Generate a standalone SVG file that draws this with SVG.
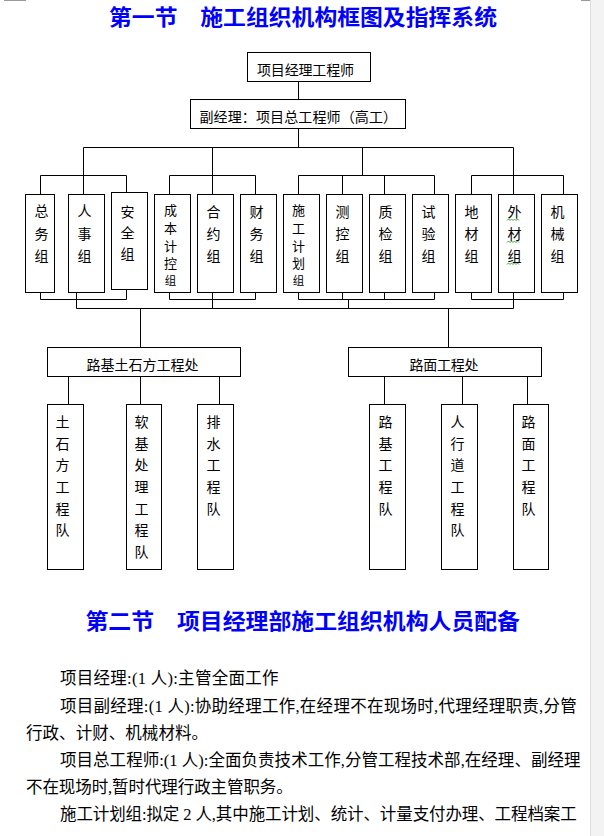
<svg xmlns="http://www.w3.org/2000/svg" width="604" height="836" viewBox="0 0 604 836">
<style>
.box{fill:#fff;stroke:#000;stroke-width:1}
.lbl{font-family:"Noto Sans CJK SC","Noto Sans CJK JP",sans-serif;font-size:14px;fill:#000}
.sm{font-size:13px}
.v{text-anchor:middle}
.title{font-family:"Noto Sans CJK SC",sans-serif;font-size:21.5px;font-weight:bold;fill:#0000ff}
.body{font-family:"Liberation Serif","Noto Sans CJK SC",serif;font-size:16.5px;fill:#000}
.conn{stroke:#000;stroke-width:1;fill:none}
.sq{stroke:#3aa83a;stroke-width:1;fill:none}
</style>
<rect x="0" y="0" width="604" height="836" fill="#fff"/>
<rect x="590" y="0" width="14" height="836" fill="#f3f3f3"/>
<line x1="590.5" y1="0" x2="590.5" y2="836" stroke="#dcdcdc"/>
<line x1="4" y1="0.5" x2="26" y2="0.5" stroke="#9a9a9a"/>
<line x1="581" y1="0.5" x2="590" y2="0.5" stroke="#9a9a9a"/>

<text class="title" x="109" y="25" textLength="388" lengthAdjust="spacingAndGlyphs">第一节　施工组织机构框图及指挥系统</text>

<g id="connectors" class="conn">
<path d="M298.5 81.5V99.5M298.5 128.5V147.5M83.5 147.5H513.5"/>
<path d="M83.5 147.5V194.5M212.5 147.5V194.5M362.5 147.5V175.5M513.5 147.5V194.5"/>
<path d="M40.5 194.5V175.5H126.5V192.5"/>
<path d="M169.5 194.5V175.5H255.5V194.5"/>
<path d="M298.5 194.5V175.5H434.5V194.5M342.5 175.5V194.5M384.5 175.5V194.5"/>
<path d="M471.5 194.5V175.5H563.5V194.5"/>
<path d="M40.5 292.5V299.5H126.5V289.5"/>
<path d="M169.5 292.5V299.5H255.5V292.5"/>
<path d="M298.5 292.5V299.5H434.5V292.5M342.5 292.5V299.5M384.5 292.5V299.5"/>
<path d="M471.5 292.5V299.5H563.5V292.5"/>
<path d="M76.5 292.5V308.5M212.5 292.5V308.5M348.5 299.5V308.5M513.5 292.5V308.5"/>
<path d="M76.5 308.5H513.5"/>
<path d="M140.5 308.5V347.5M448.5 308.5V347.5"/>
<path d="M68.5 376.5V404.5M140.5 376.5V404.5M219.5 376.5V404.5"/>
<path d="M384.5 376.5V404.5M462.5 376.5V404.5M527.5 376.5V404.5"/>
</g>

<g id="pm"><rect class="box" x="247.5" y="52.5" width="123" height="29"/><text class="lbl" x="257" y="75" textLength="97">项目经理工程师</text></g>
<g id="dpm"><rect class="box" x="190.5" y="99.5" width="215" height="29"/><text class="lbl" x="199.5" y="122" textLength="197.5">副经理：项目总工程师（高工）</text></g>

<g id="zongwu"><rect class="box" x="25.5" y="194.5" width="29" height="98"/><text class="lbl v"><tspan x="41.5" y="215.5">总</tspan><tspan x="41.5" y="239">务</tspan><tspan x="41.5" y="261">组</tspan></text></g>
<g id="renshi"><rect class="box" x="68.5" y="194.5" width="36" height="98"/><text class="lbl v"><tspan x="84.5" y="215.5">人</tspan><tspan x="84.5" y="239">事</tspan><tspan x="84.5" y="261">组</tspan></text></g>
<g id="anquan"><rect class="box" x="111.5" y="192.5" width="36" height="97"/><text class="lbl v"><tspan x="127.5" y="217">安</tspan><tspan x="127.5" y="237.5">全</tspan><tspan x="127.5" y="258.5">组</tspan></text></g>
<g id="chengben"><rect class="box" x="154.5" y="194.5" width="36" height="98"/><text class="lbl sm v"><tspan x="170.5" y="215">成</tspan><tspan x="170.5" y="233">本</tspan><tspan x="170.5" y="250.5">计</tspan><tspan x="170.5" y="268">控</tspan><tspan x="170.5" y="284.5" font-size="11.5">组</tspan></text></g>
<g id="heyue"><rect class="box" x="197.5" y="194.5" width="36" height="98"/><text class="lbl v"><tspan x="213.5" y="217">合</tspan><tspan x="213.5" y="239">约</tspan><tspan x="213.5" y="261">组</tspan></text></g>
<g id="caiwu"><rect class="box" x="240.5" y="194.5" width="36" height="98"/><text class="lbl v"><tspan x="256.5" y="217">财</tspan><tspan x="256.5" y="239">务</tspan><tspan x="256.5" y="261">组</tspan></text></g>
<g id="shigong"><rect class="box" x="283.5" y="194.5" width="36" height="98"/><text class="lbl sm v"><tspan x="298.5" y="215">施</tspan><tspan x="298.5" y="233">工</tspan><tspan x="298.5" y="250.5">计</tspan><tspan x="298.5" y="268">划</tspan><tspan x="298.5" y="284.5" font-size="11.5">组</tspan></text></g>
<g id="cekong"><rect class="box" x="326.5" y="194.5" width="36" height="98"/><text class="lbl v"><tspan x="342.5" y="217">测</tspan><tspan x="342.5" y="239">控</tspan><tspan x="342.5" y="261">组</tspan></text></g>
<g id="zhijian"><rect class="box" x="369.5" y="194.5" width="36" height="98"/><text class="lbl v"><tspan x="385.5" y="217">质</tspan><tspan x="385.5" y="239">检</tspan><tspan x="385.5" y="261">组</tspan></text></g>
<g id="shiyan"><rect class="box" x="412.5" y="194.5" width="36" height="98"/><text class="lbl v"><tspan x="428.5" y="217">试</tspan><tspan x="428.5" y="239">验</tspan><tspan x="428.5" y="261">组</tspan></text></g>
<g id="dicai"><rect class="box" x="455.5" y="194.5" width="36" height="98"/><text class="lbl v"><tspan x="471.5" y="217">地</tspan><tspan x="471.5" y="239">材</tspan><tspan x="471.5" y="261">组</tspan></text></g>
<g id="waicai"><rect class="box" x="498.5" y="194.5" width="36" height="98"/><text class="lbl v"><tspan x="514.5" y="217">外</tspan><tspan x="514.5" y="239">材</tspan><tspan x="514.5" y="261">组</tspan></text>
<path class="sq" d="M507 220.5l1.5-1.5 1.5 1.5 1.5-1.5 1.5 1.5 1.5-1.5 1.5 1.5 1.5-1.5 1.5 1.5M507 242.5l1.5-1.5 1.5 1.5 1.5-1.5 1.5 1.5 1.5-1.5 1.5 1.5 1.5-1.5 1.5 1.5M507 264.5l1.5-1.5 1.5 1.5 1.5-1.5 1.5 1.5 1.5-1.5 1.5 1.5 1.5-1.5 1.5 1.5"/></g>
<g id="jixie"><rect class="box" x="541.5" y="194.5" width="36" height="98"/><text class="lbl v"><tspan x="557.5" y="217">机</tspan><tspan x="557.5" y="239">械</tspan><tspan x="557.5" y="261">组</tspan></text></g>

<g id="lujichu"><rect class="box" x="47.5" y="347.5" width="193" height="29"/><text class="lbl" x="86.5" y="370" textLength="112">路基土石方工程处</text></g>
<g id="lumianchu"><rect class="box" x="348.5" y="347.5" width="193" height="29"/><text class="lbl" x="409.5" y="370" textLength="69">路面工程处</text></g>

<g id="tushifang"><rect class="box" x="47.5" y="404.5" width="36" height="165"/><text class="lbl v"><tspan x="62.5" y="427">土</tspan><tspan x="62.5" y="448.7">石</tspan><tspan x="62.5" y="470.3">方</tspan><tspan x="62.5" y="492">工</tspan><tspan x="62.5" y="513.7">程</tspan><tspan x="62.5" y="535.3">队</tspan></text></g>
<g id="ruanji"><rect class="box" x="126.5" y="404.5" width="35" height="165"/><text class="lbl v"><tspan x="141.5" y="427">软</tspan><tspan x="141.5" y="448.7">基</tspan><tspan x="141.5" y="470.3">处</tspan><tspan x="141.5" y="492">理</tspan><tspan x="141.5" y="513.7">工</tspan><tspan x="141.5" y="535.3">程</tspan><tspan x="141.5" y="557">队</tspan></text></g>
<g id="paishui"><rect class="box" x="197.5" y="404.5" width="36" height="165"/><text class="lbl v"><tspan x="213.5" y="427">排</tspan><tspan x="213.5" y="448.7">水</tspan><tspan x="213.5" y="470.3">工</tspan><tspan x="213.5" y="492">程</tspan><tspan x="213.5" y="513.7">队</tspan></text></g>
<g id="luji"><rect class="box" x="369.5" y="404.5" width="36" height="165"/><text class="lbl v"><tspan x="385.5" y="427">路</tspan><tspan x="385.5" y="448.7">基</tspan><tspan x="385.5" y="470.3">工</tspan><tspan x="385.5" y="492">程</tspan><tspan x="385.5" y="513.7">队</tspan></text></g>
<g id="renxingdao"><rect class="box" x="441.5" y="404.5" width="36" height="165"/><text class="lbl v"><tspan x="457.5" y="427">人</tspan><tspan x="457.5" y="448.7">行</tspan><tspan x="457.5" y="470.3">道</tspan><tspan x="457.5" y="492">工</tspan><tspan x="457.5" y="513.7">程</tspan><tspan x="457.5" y="535.3">队</tspan></text></g>
<g id="lumian"><rect class="box" x="513.5" y="404.5" width="35" height="165"/><text class="lbl v"><tspan x="528.5" y="427">路</tspan><tspan x="528.5" y="448.7">面</tspan><tspan x="528.5" y="470.3">工</tspan><tspan x="528.5" y="492">程</tspan><tspan x="528.5" y="513.7">队</tspan></text></g>

<text class="title" x="85.5" y="628.5" textLength="434.5" lengthAdjust="spacingAndGlyphs">第二节　项目经理部施工组织机构人员配备</text>

<g id="body">
<text class="body" x="60" y="684" textLength="218.5">项目经理:(1 人):主管全面工作</text>
<text class="body" x="60" y="712" textLength="516.7">项目副经理:(1 人):协助经理工作,在经理不在现场时,代理经理职责,分管</text>
<text class="body" x="26" y="739" textLength="182">行政、计财、机械材料。</text>
<text class="body" x="60" y="766" textLength="520.5">项目总工程师:(1 人):全面负责技术工作,分管工程技术部,在经理、副经理</text>
<text class="body" x="26" y="793" textLength="266.7">不在现场时,暂时代理行政主管职务。</text>
<text class="body" x="60" y="820" textLength="516.7">施工计划组:拟定 2 人,其中施工计划、统计、计量支付办理、工程档案工</text>
</g>
</svg>
